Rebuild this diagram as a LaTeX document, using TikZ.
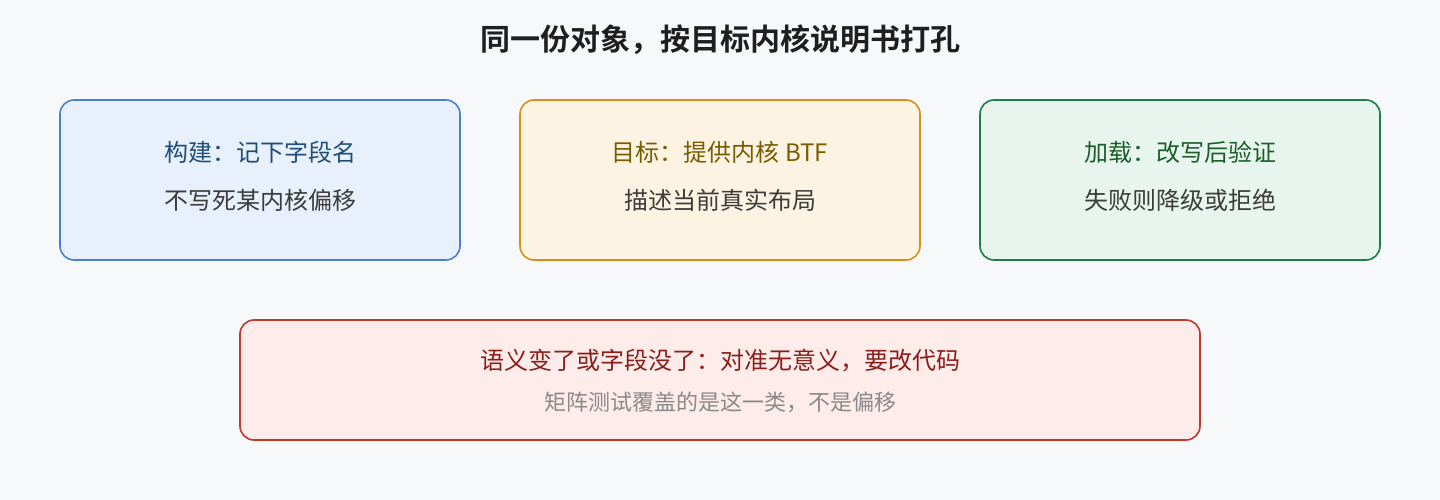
\documentclass[tikz,border=0pt]{standalone}
\usepackage{fontspec}
\setmainfont{Noto Sans CJK SC}
\newfontfamily\cjkbold{Noto Sans CJK SC Bold}
\definecolor{bgc}{HTML}{F7F8FA}
\definecolor{bluefill}{HTML}{E8F0FC}
\definecolor{blueline}{HTML}{4A7FD4}
\definecolor{bluetext}{HTML}{1F4E79}
\definecolor{orfill}{HTML}{FDF3E3}
\definecolor{orline}{HTML}{D9901A}
\definecolor{ortext}{HTML}{7A5C00}
\definecolor{grfill}{HTML}{E7F5EE}
\definecolor{grline}{HTML}{1E7D45}
\definecolor{grtext}{HTML}{1B5E2A}
\definecolor{rdfill}{HTML}{FDECEA}
\definecolor{rdline}{HTML}{C0392B}
\definecolor{rdtext}{HTML}{8B1E1A}
\definecolor{bodytext}{HTML}{3C3C3C}
\definecolor{graytext}{HTML}{8A8A8A}
\definecolor{titletext}{HTML}{1F1F1F}
\tikzset{
  card/.style={draw, line width=1.6pt, rounded corners=14pt, inner sep=0pt},
  headtxt/.style={font=\fontsize{24}{28}\selectfont, anchor=center, inner sep=0pt},
  subtxt/.style={font=\fontsize{24}{28}\selectfont, text=bodytext, anchor=center, inner sep=0pt},
}
\begin{document}
\begin{tikzpicture}[x=1pt,y=1pt]
\fill[bgc] (0,0) rectangle (1440,-500);
\useasboundingbox (0,0) rectangle (1440,-500);
\node[font=\cjkbold\fontsize{30}{34}\selectfont, text=titletext, inner sep=0pt] (title) at (720,-40) {同一份对象，按目标内核说明书打孔};

\node[card, fill=bluefill, draw=blueline, minimum width=400pt, minimum height=160pt] (b1) at (260,-180) {};
\node[headtxt, text=bluetext] (b1a) at (260,-152) {构建：记下字段名};
\node[subtxt] (b1b) at (260,-200) {不写死某内核偏移};

\node[card, fill=orfill, draw=orline, minimum width=400pt, minimum height=160pt] (b2) at (720,-180) {};
\node[headtxt, text=ortext] (b2a) at (720,-152) {目标：提供内核 BTF};
\node[subtxt] (b2b) at (720,-200) {描述当前真实布局};

\node[card, fill=grfill, draw=grline, minimum width=400pt, minimum height=160pt] (b3) at (1180,-180) {};
\node[headtxt, text=grtext] (b3a) at (1180,-152) {加载：改写后验证};
\node[subtxt] (b3b) at (1180,-200) {失败则降级或拒绝};

\node[card, fill=rdfill, draw=rdline, minimum width=960pt, minimum height=120pt] (b4) at (720,-380) {};
\node[headtxt, text=rdtext] (b4a) at (720,-361) {语义变了或字段没了：对准无意义，要改代码};
\node[font=\fontsize{22}{26}\selectfont, text=graytext, inner sep=0pt] (b4b) at (720,-402) {矩阵测试覆盖的是这一类，不是偏移};
\end{tikzpicture}
\end{document}
